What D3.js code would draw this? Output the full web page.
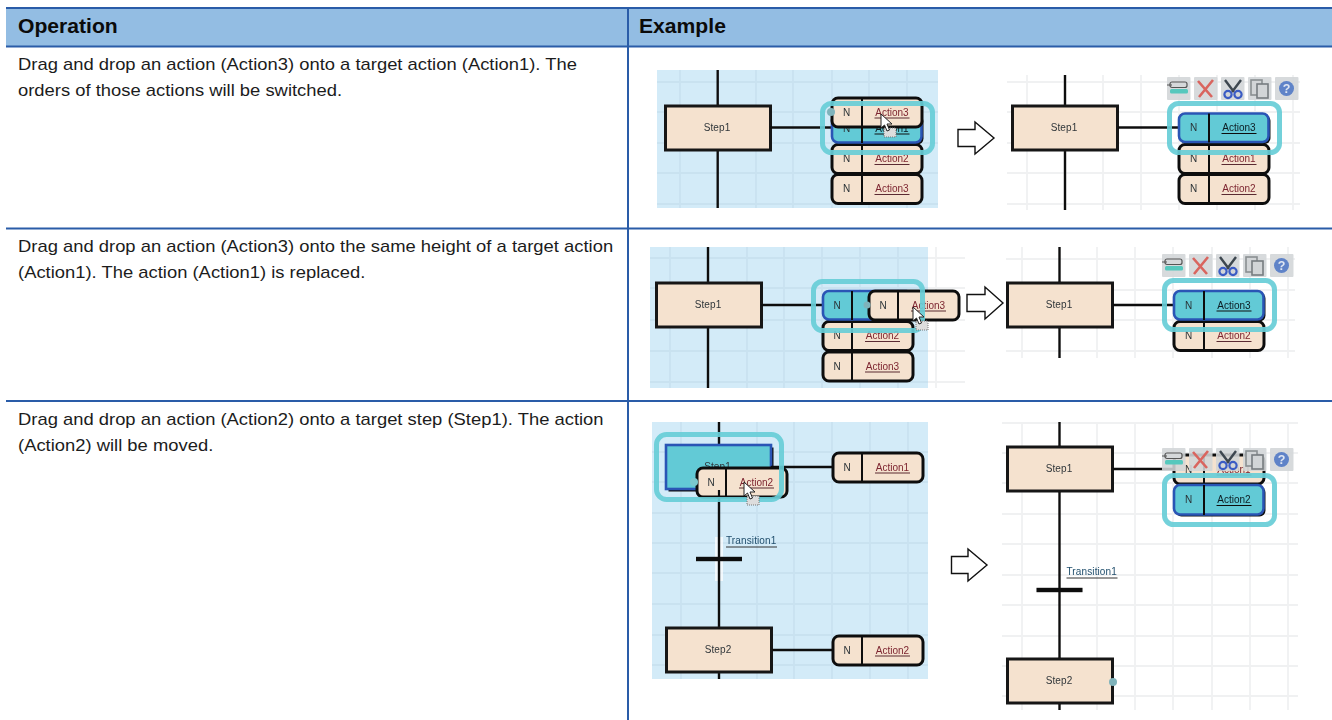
<!DOCTYPE html>
<html><head><meta charset="utf-8">
<style>html,body{margin:0;padding:0;background:#fff;overflow:hidden}svg{display:block}</style>
<script src="https://cdn.jsdelivr.net/npm/d3@7/dist/d3.min.js"></script>
</head><body><svg id="c" width="1332" height="720"></svg>
<script>
const headers = ["Operation", "Example"];
const operations = [
  ["Drag and drop an action (Action3) onto a target action (Action1). The", "orders of those actions will be switched."],
  ["Drag and drop an action (Action3) onto the same height of a target action", "(Action1). The action (Action1) is replaced."],
  ["Drag and drop an action (Action2) onto a target step (Step1). The action", "(Action2) will be moved."]
];
const NAVY="#2a5ca8", HEAD="#93bde3", PANEL="#d3ebf8", CREAM="#f5e2cf", TEAL="#62cad6", HL="#67cdd7", BLUE="#2b55b5";

const svg = d3.select("#c");
const defs = svg.append("defs");
defs.append("filter").attr("id","soft").attr("x","-5%").attr("y","-5%").attr("width","110%").attr("height","110%")
  .append("feGaussianBlur").attr("stdDeviation",0.5);

// ---- table
const rowY = d3.scaleOrdinal().domain([0,1,2,3,4]).range([8,46.5,228.5,401,720]);
svg.append("rect").attr("x",6).attr("y",8).attr("width",1326).attr("height",38.5).attr("fill",HEAD);
const rules = svg.append("g").attr("stroke",NAVY).attr("stroke-width",2);
rules.selectAll("line").data([0,1,2,3]).join("line")
  .attr("x1",6).attr("x2",1332).attr("y1",d=>rowY(d)).attr("y2",d=>rowY(d));
rules.append("line").attr("x1",628).attr("x2",628).attr("y1",8).attr("y2",720);
const FONT='"Liberation Sans",Arial,sans-serif';
svg.selectAll("text.h").data(headers).join("text").attr("class","h")
  .attr("transform",(d,i)=>`translate(${[18,639][i]},32.5) scale(1.057,1)`).attr("font-family",FONT).attr("font-weight","bold").attr("font-size",20).attr("fill","#0b0b0b").text(d=>d);
const opBase=[70,251.5,424.5];
operations.forEach((lines,i)=>{
  svg.selectAll("text.o"+i).data(lines).join("text").attr("class","o"+i)
    .attr("transform",(d,j)=>`translate(18,${opBase[i]+j*26.4}) scale(1.083,1)`)
    .attr("font-family",FONT).attr("font-size",17).attr("fill","#1c1c1c").text(d=>d);
});

// ---- diagram helpers
const art = svg.append("g").attr("filter","url(#soft)");
function grid(x0,x1,y0,y1,xs,ys,color){
  const g=art.append("g").attr("stroke",color).attr("stroke-width",1.8);
  g.selectAll("line.v").data(xs).join("line").attr("class","v").attr("x1",d=>d).attr("x2",d=>d).attr("y1",y0).attr("y2",y1);
  g.selectAll("line.u").data(ys).join("line").attr("class","u").attr("y1",d=>d).attr("y2",d=>d).attr("x1",x0).attr("x2",x1);
}
function panel(x0,x1,y0,y1){art.append("rect").attr("x",x0).attr("y",y0).attr("width",x1-x0).attr("height",y1-y0).attr("fill",PANEL);}
function line(x1,y1,x2,y2,w){art.append("line").attr("x1",x1).attr("y1",y1).attr("x2",x2).attr("y2",y2).attr("stroke","#111").attr("stroke-width",w||2.4);}
function step(x,y,label,sel,w,h){
  w=w||105;h=h||44;
  const g=art.append("g");
  if(sel){
    g.append("rect").attr("x",x+2.5).attr("y",y+2.5).attr("width",w).attr("height",h).attr("fill","#111");
    g.append("rect").attr("x",x).attr("y",y).attr("width",w).attr("height",h).attr("fill",TEAL).attr("stroke",BLUE).attr("stroke-width",2.6);
  } else g.append("rect").attr("x",x).attr("y",y).attr("width",w).attr("height",h).attr("fill",CREAM).attr("stroke","#161616").attr("stroke-width",3);
  g.append("text").attr("x",x+w/2-1).attr("y",y+h/2+2.5).attr("text-anchor","middle").attr("font-family",FONT).attr("font-size",10).attr("letter-spacing",0.1).attr("fill","#30363a").text(label);
}
function action(x,y,label,div,sel,w,h){
  w=w||90;h=h||29;
  const g=art.append("g");
  if(sel){
    g.append("rect").attr("x",x+1.5).attr("y",y+1.5).attr("width",w).attr("height",h).attr("rx",6).attr("fill","#111");
    g.append("rect").attr("x",x).attr("y",y).attr("width",w-0.5).attr("height",h-0.5).attr("rx",6).attr("fill",TEAL).attr("stroke",BLUE).attr("stroke-width",2.6);
  } else g.append("rect").attr("x",x).attr("y",y).attr("width",w).attr("height",h).attr("rx",6).attr("fill",CREAM).attr("stroke","#111").attr("stroke-width",3);
  g.append("line").attr("x1",x+div).attr("x2",x+div).attr("y1",y).attr("y2",y+h).attr("stroke","#111").attr("stroke-width",2);
  g.append("text").attr("x",x+div/2-0.5).attr("y",y+h/2+3).attr("text-anchor","middle").attr("font-family",FONT).attr("font-size",10).attr("fill","#2a3236").text("N");
  if(!label) return;
  const cx=x+div+(w-div)/2;
  g.append("text").attr("x",cx).attr("y",y+h/2+3).attr("text-anchor","middle").attr("font-family",FONT).attr("font-size",10)
    .attr("fill",sel?"#0c1c22":"#7d2530").text(label);
  g.append("line").attr("x1",cx-17.5).attr("x2",cx+17.5).attr("y1",y+h/2+5.5).attr("y2",y+h/2+5.5).attr("stroke",sel?"#111":"#5a2a30").attr("stroke-width",1);
}
function highlight(x0,x1,y0,y1,rx){
  art.append("rect").attr("x",x0+2.5).attr("y",y0+2.5).attr("width",x1-x0-5).attr("height",y1-y0-5).attr("rx",rx||7)
    .attr("fill","none").attr("stroke",HL).attr("stroke-width",5).attr("opacity",0.92);
}
function arrow(x,body,baseX,tipX,cy){
  const p=d3.path();
  p.moveTo(x,cy-body);p.lineTo(baseX,cy-body);p.lineTo(baseX,cy-16);p.lineTo(tipX,cy);p.lineTo(baseX,cy+16);p.lineTo(baseX,cy+body);p.lineTo(x,cy+body);p.closePath();
  svg.append("path").attr("d",p.toString()).attr("fill","#fff").attr("stroke","#111").attr("stroke-width",1.4);
}
function cursor(x,y){
  const g=art.append("g").attr("transform",`translate(${x},${y})`);
  g.append("rect").attr("x",3).attr("y",14).attr("width",12).attr("height",9).attr("fill","#ddd").attr("stroke","#777").attr("stroke-width",1).attr("stroke-dasharray","1 1");
  g.append("path").attr("d","M0,0 L0,14 L3.5,11 L6,17 L8.5,16 L6,10 L11,10 Z").attr("fill","#fff").attr("stroke","#222").attr("stroke-width",1);
}
function toolbar(x,y){
  const g=art.append("g").attr("transform",`translate(${x},${y})`);
  g.selectAll("rect.b").data([0,1,2,3,4]).join("rect").attr("class","b")
    .attr("x",d=>d*27).attr("y",0).attr("width",23.5).attr("height",23).attr("fill","#d2d5d7").attr("opacity",0.88).attr("rx",1);
  // add-action icon
  const a=g.append("g");
  a.append("rect").attr("x",3).attr("y",5).attr("width",17).attr("height",5.5).attr("rx",2).attr("fill","#d5d8da").attr("stroke","#555").attr("stroke-width",1.2);
  a.append("rect").attr("x",3).attr("y",12).attr("width",18).attr("height",4.5).attr("rx",1.5).attr("fill","#56c8bd");
  a.append("line").attr("x1",0).attr("x2",5).attr("y1",8).attr("y2",8).attr("stroke","#555");
  // delete
  g.append("path").attr("d","M31,4 L45,20 M46,3 L32,20").attr("stroke","#d9655e").attr("stroke-width",2.6).attr("fill","none");
  // cut
  g.append("path").attr("d","M58,3 L67,15 M74,3 L65,15").attr("stroke","#3d4650").attr("stroke-width",2.4).attr("fill","none");
  g.selectAll("circle.s").data([61,71]).join("circle").attr("class","s").attr("cx",d=>d).attr("cy",17.5).attr("r",3.6).attr("fill","#d2d5d7").attr("stroke","#3a5cc4").attr("stroke-width",2.2);
  // copy
  g.append("rect").attr("x",84).attr("y",3).attr("width",11).attr("height",15).attr("fill","#d2d5d7").attr("stroke","#8a8f92").attr("stroke-width",1.6);
  g.append("rect").attr("x",90).attr("y",7).attr("width",11).attr("height",14).attr("fill","#d2d5d7").attr("stroke","#777c80").attr("stroke-width",1.6);
  // help
  g.append("circle").attr("cx",119.5).attr("cy",11.5).attr("r",7.5).attr("fill","#5e83c8");
  g.append("text").attr("x",119.5).attr("y",16).attr("text-anchor","middle").attr("font-family",FONT).attr("font-weight","bold").attr("font-size",12.5).attr("fill","#dfe6f2").text("?");
}
function transition(xc,y,label){
  art.append("rect").attr("x",xc-23).attr("y",y-2.2).attr("width",46).attr("height",4.4).attr("fill","#0a0a0a");
  art.append("text").attr("x",xc+7).attr("y",y-15).attr("font-family",FONT).attr("font-size",10).attr("letter-spacing",0.12).attr("fill","#23506e").text(label);
  art.append("line").attr("x1",xc+7).attr("x2",xc+58).attr("y1",y-12).attr("y2",y-12).attr("stroke","#333").attr("stroke-width",1);
}
const LG="#c9e2f0", WG="#f0f1f2";

// ---- example 1, before
panel(657,938,70,208);
grid(657,938,70,208,[680,756,793,832,869,907],[82,112,143,173,204],LG);
line(717.7,70,717.7,208);
step(665.5,106,"Step1");
line(770,127.5,832,127.5);
action(832,174.5,"Action3",30);
action(832,144.5,"Action2",30);
action(832,114,"Action1",30,true);
action(832,98,"Action3",30);
highlight(820,935,101,155,9);
art.append("circle").attr("cx",831).attr("cy",112).attr("r",4).attr("fill","#7fb3bb");
cursor(881,114);

// ---- example 1, after
grid(1007,1300,75,210,[1027,1103,1141,1179,1217,1255,1293],[82,112,143,173,204],WG);
line(1065,75,1065,210);
step(1012.5,106,"Step1");
line(1118,127.5,1179,127.5);
action(1179,174.5,"Action2",30);
action(1179,144.5,"Action1",30);
action(1179,113.5,"Action3",30,true);
highlight(1167,1282,101,155,9);
toolbar(1167,77);
arrow(958,8.5,975,994,138);

// ---- example 2, before
grid(928,965,247,388,[936],[258,288,320,351,382],WG);
panel(650,928,247,388);
grid(650,928,247,388,[670,747,784,822,860,898],[258,288,320,351,382],LG);
line(708,247,708,388);
step(656.5,283,"Step1");
line(761,305,823,305);
action(823,352,"Action3",29);
action(823,321.5,"Action2",29);
action(823,291,"",29,true);
action(869,291,"Action3",29);
art.append("circle").attr("cx",867).attr("cy",305).attr("r",3.5).attr("fill","#7fb3bb");
highlight(811,925,279,333,9);
cursor(913,307);

// ---- example 2, after
grid(1006,1295,247,358,[1022,1097,1135,1173,1212,1250,1288],[259,290,320,351],WG);
line(1059.5,247,1059.5,358);
step(1007.5,283,"Step1");
line(1113,305,1174,305);
action(1174,321.5,"Action2",30);
action(1174,291,"Action3",30,true);
highlight(1162,1277,278,332,9);
toolbar(1162,254);
arrow(967,8.5,985,1003,303);

// ---- example 3, before
panel(652,928,422,679);
grid(652,928,422,679,[681,757,794,832,870,908],[452,482,513,543,573,604,635,665],LG);
art.append("rect").attr("x",715).attr("y",537).attr("width",8).attr("height",44).attr("fill","#fff").attr("opacity",0.7);
line(719,422,719,679);
step(666,445,"Step1",true);
line(771,467,833,467);
action(833,453,"Action1",29);
step(666.5,628,"Step2");
line(772,650,833,650);
action(833,636,"Action2",29);
action(697,468,"Action2",29);
art.append("line").attr("x1",719).attr("x2",719).attr("y1",490).attr("y2",497).attr("stroke","#111").attr("stroke-width",2.2);
art.append("circle").attr("cx",694).attr("cy",482).attr("r",4).attr("fill","#7ac8ce");
highlight(654,784,432,502,10);
cursor(744,482);
transition(719,559,"Transition1");

// ---- example 3, after
grid(1002,1298,422,710,[1022,1097,1135,1173,1212,1250,1288],[423,453,483,514,544,575,605,636,666,696],WG);
line(1059.5,422,1059.5,710);
step(1007.5,447,"Step1");
step(1007.5,659,"Step2");
line(1113,469,1174,469);
action(1174,455,"Action1",30);
action(1174,485,"Action2",30,true,90,30);
highlight(1162,1277,473,527,9);
toolbar(1162,448);
art.append("circle").attr("cx",1113).attr("cy",682).attr("r",4).attr("fill","#7fb3bb");
transition(1059.5,590,"Transition1");
arrow(951.5,8.5,968,987,565);
</script></body></html>
